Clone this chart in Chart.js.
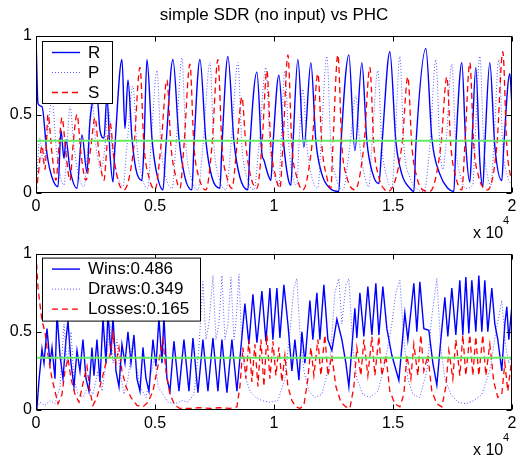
<!DOCTYPE html>
<html>
<head>
<meta charset="utf-8">
<script src="https://cdn.jsdelivr.net/npm/chart.js@4.4.1/dist/chart.umd.min.js"></script>
<style>
  html, body { margin: 0; padding: 0; background: #fff; }
  #wrap { position: relative; width: 524px; height: 458px; }
  canvas { position: absolute; left: 0; }
  #topChart { top: 0; }
  #bottomChart { top: 240px; }
</style>
</head>
<body>
<div id="wrap">
  <canvas id="topChart" width="524" height="240"></canvas>
  <canvas id="bottomChart" width="524" height="218"></canvas>
</div>
<script>
// time steps (x axis shown in units of 10^4)
const xTickValues = [0, 5000, 10000, 15000, 20000];
const yTickValues = [0, 0.5, 1];
const uniformLevel = 0.3333;

const topTitle = 'simple SDR (no input) vs PHC';
const topLabels = ['R', 'P', 'S'];
const bottomLabels = ['Wins:0.486', 'Draws:0.349', 'Losses:0.165'];

// --- top: strategy probabilities R / P / S
const rT = [0,84,252,462,672,924,1050,1176,1260,1428,1722,1932,2142,2268,2562,2688,2856,2982,3108,3234,3318,3612,3738,3864,4032,4200,4452,4536,4662,4872,5040,5334,5460,5754,6006,6258,6552,6636,6888,7140,7392,7728,7812,8064,8316,8568,8904,8988,9282,9492,9576,9744,9870,9954,10206,10416,10584,10710,10794,11004,11256,11550,11760,12012,12348,12726,12810,13146,13398,13692,13902,14154,14406,14532,14868,15120,15372,15708,15876,15960,16380,16632,16968,17304,17556,17640,17892,18060,18228,18312,18480,18648,18774,18858,19068,19278,19572,19656,19908,19992];
const rV = [1.00,0.57,0.55,0.25,0.10,0.04,0.40,0.22,0.34,0.15,0.03,0.37,0.13,0.46,0.62,0.40,0.35,0.62,0.25,0.07,0.30,0.85,0.41,0.72,0.35,0.15,0.08,0.30,0.85,0.35,0.15,0.02,0.30,0.85,0.35,0.10,0.02,0.30,0.85,0.33,0.10,0.03,0.30,0.87,0.33,0.10,0.02,0.30,0.77,0.25,0.21,0.12,0.08,0.30,0.75,0.30,0.10,0.05,0.30,0.85,0.29,0.83,0.33,0.12,0.03,0.01,0.30,0.88,0.27,0.83,0.33,0.12,0.06,0.30,0.90,0.33,0.12,0.03,0.01,0.30,0.92,0.35,0.12,0.03,0.01,0.30,0.83,0.30,0.07,0.30,0.80,0.20,0.04,0.30,0.83,0.30,0.08,0.30,0.76,0.57];

const pT = [0,168,294,462,672,840,1008,1176,1302,1428,1596,1806,2016,2184,2352,2520,2730,2898,3024,3192,3402,3654,3822,4074,4242,4452,4704,4830,5082,5250,5460,5712,5880,6132,6300,6510,6804,7014,7308,7476,7686,7980,8190,8484,8652,8862,9156,9366,9660,9828,10038,10206,10290,10458,10626,10794,10962,11046,11214,11382,11592,11844,11970,12222,12390,12600,12894,13188,13440,13608,13818,13986,14112,14364,14532,14742,14952,15078,15288,15456,15708,16044,16296,16548,16800,16968,17094,17220,17472,17640,17850,18060,18354,18438,18648,18816,18984,19110,19236,19446,19614,19824,19992];
const pV = [0.00,0.35,0.20,0.35,0.60,0.30,0.12,0.05,0.30,0.55,0.30,0.10,0.04,0.30,0.60,0.30,0.15,0.30,0.55,0.30,0.12,0.04,0.30,0.68,0.30,0.10,0.03,0.30,0.78,0.30,0.10,0.03,0.30,0.86,0.30,0.10,0.02,0.30,0.83,0.30,0.10,0.02,0.30,0.83,0.30,0.10,0.02,0.30,0.80,0.30,0.10,0.04,0.30,0.78,0.30,0.10,0.05,0.30,0.66,0.30,0.10,0.03,0.30,0.87,0.30,0.10,0.02,0.30,0.62,0.30,0.10,0.04,0.30,0.78,0.30,0.10,0.03,0.30,0.87,0.30,0.10,0.02,0.01,0.30,0.85,0.30,0.15,0.30,0.82,0.30,0.10,0.03,0.05,0.30,0.87,0.30,0.10,0.05,0.30,0.85,0.30,0.10,0.05];

const sT = [0,84,252,378,504,672,840,966,1092,1260,1428,1554,1722,1890,2100,2310,2478,2646,2856,2982,3108,3276,3486,3696,4116,4368,4536,4746,4998,5250,5502,5670,5880,6048,6216,6468,6636,6846,7140,7392,7644,7812,8022,8232,8442,8652,8820,9030,9282,9492,9702,9870,10080,10248,10374,10584,10752,10962,11214,11592,11844,12012,12222,12390,12474,12684,12852,13062,13398,13776,14028,14196,14406,14658,14784,15372,15624,15792,16002,16254,16548,17010,17262,17430,17640,17892,18018,18228,18396,18606,18816,18984,19362,19614,19782,19950,19992];
const sV = [0.00,0.10,0.30,0.15,0.50,0.25,0.08,0.30,0.48,0.25,0.08,0.30,0.50,0.25,0.08,0.30,0.48,0.25,0.08,0.30,0.45,0.22,0.06,0.02,0.30,0.80,0.30,0.10,0.02,0.30,0.72,0.30,0.10,0.03,0.30,0.82,0.30,0.10,0.02,0.30,0.85,0.30,0.10,0.03,0.30,0.61,0.30,0.10,0.03,0.30,0.78,0.30,0.10,0.03,0.30,0.88,0.30,0.10,0.02,0.30,0.76,0.30,0.10,0.03,0.30,0.88,0.30,0.10,0.02,0.30,0.80,0.30,0.10,0.02,0.01,0.30,0.74,0.30,0.10,0.02,0.01,0.30,0.74,0.30,0.10,0.02,0.30,0.83,0.30,0.10,0.03,0.02,0.30,0.90,0.30,0.10,0.08];

// --- bottom: running outcome rates
const wT = [0,42,126,252,336,462,588,672,798,882,1008,1134,1260,1344,1470,1596,1722,1848,1974,2100,2226,2352,2436,2562,2688,2814,2940,3024,3150,3234,3360,3486,3612,3738,3864,3990,4116,4242,4368,4494,4620,4746,4914,5040,5166,5292,5376,5502,5628,5796,6006,6216,6426,6594,6804,7014,7224,7434,7644,7812,8022,8232,8442,8778,8946,9114,9282,9492,9660,9828,9954,10122,10248,10416,10584,10752,10878,11046,11172,11298,11508,11634,11802,11928,12096,12264,12432,12642,12852,13020,13146,13398,13482,13608,13776,13944,14112,14280,14406,14574,14742,14952,15246,15498,15624,15876,16002,16128,16296,16506,16674,16842,17010,17178,17304,17472,17640,17808,17934,18060,18186,18312,18480,18606,18732,18858,18984,19152,19278,19404,19572,19698,19782,19866,19992];
const wV = [0.00,0.02,0.19,0.39,0.30,0.52,0.30,0.40,0.20,0.62,0.35,0.20,0.45,0.57,0.30,0.15,0.38,0.25,0.45,0.20,0.12,0.40,0.22,0.45,0.18,0.59,0.30,0.62,0.35,0.60,0.25,0.15,0.42,0.30,0.50,0.30,0.48,0.20,0.12,0.40,0.20,0.12,0.45,0.28,0.59,0.30,0.60,0.20,0.12,0.44,0.12,0.45,0.12,0.46,0.11,0.45,0.12,0.46,0.12,0.45,0.11,0.45,0.12,0.68,0.42,0.74,0.43,0.76,0.44,0.78,0.45,0.78,0.46,0.80,0.55,0.25,0.45,0.19,0.50,0.30,0.70,0.45,0.75,0.45,0.80,0.45,0.38,0.58,0.45,0.30,0.15,0.65,0.46,0.75,0.47,0.79,0.48,0.81,0.48,0.79,0.52,0.35,0.19,0.62,0.45,0.81,0.50,0.82,0.52,0.51,0.30,0.16,0.45,0.72,0.47,0.78,0.48,0.83,0.48,0.85,0.49,0.83,0.50,0.86,0.50,0.83,0.50,0.78,0.55,0.45,0.25,0.55,0.66,0.45,0.66];

const dT = [0,168,378,588,798,1008,1176,1302,1470,1596,1764,1974,2184,2394,2604,2772,2982,3108,3234,3402,3528,3696,3864,4074,4200,4368,4620,4788,4998,5124,5334,5544,5838,6132,6384,6636,6846,7014,7140,7266,7434,7560,7686,7812,7938,8064,8190,8316,8400,8526,8652,8820,8988,9240,9492,9828,10164,10458,10668,10836,10962,11088,11256,11466,11718,12012,12348,12558,12726,12852,13020,13146,13314,13482,13734,14028,14364,14658,14952,15120,15288,15456,15624,15834,16128,16422,16632,16842,17010,17178,17430,17724,18060,18396,18732,19068,19320,19572,19740,19866,19992];
const dV = [0.00,0.05,0.03,0.06,0.04,0.15,0.55,0.30,0.50,0.20,0.10,0.08,0.15,0.10,0.25,0.12,0.35,0.55,0.30,0.45,0.25,0.10,0.20,0.45,0.30,0.15,0.08,0.20,0.35,0.15,0.10,0.05,0.04,0.06,0.05,0.10,0.40,0.82,0.45,0.55,0.86,0.45,0.55,0.86,0.45,0.55,0.85,0.45,0.55,0.87,0.40,0.20,0.12,0.08,0.06,0.05,0.06,0.20,0.50,0.78,0.84,0.50,0.25,0.12,0.08,0.10,0.30,0.75,0.84,0.55,0.80,0.84,0.40,0.20,0.10,0.08,0.12,0.30,0.55,0.75,0.83,0.45,0.20,0.10,0.08,0.25,0.60,0.84,0.40,0.20,0.10,0.05,0.04,0.06,0.10,0.25,0.50,0.70,0.40,0.30,0.35];

const lT = [0,84,252,378,504,672,798,924,1092,1218,1344,1470,1638,1806,2016,2142,2268,2394,2562,2772,2940,3108,3234,3360,3486,3612,3780,3990,4242,4494,4704,4914,5082,5208,5334,5460,5628,5838,6048,6468,6888,7308,7728,8148,8442,8568,8694,8820,8946,9072,9198,9324,9450,9576,9702,9828,9954,10080,10206,10332,10458,10584,10752,10920,11088,11256,11424,11550,11676,11844,11970,12138,12264,12432,12600,12810,13020,13188,13356,13482,13650,13776,13944,14112,14238,14406,14532,14700,14868,15078,15288,15456,15582,15750,15876,16044,16170,16296,16464,16632,16842,17052,17220,17346,17514,17640,17808,17934,18060,18228,18354,18480,18606,18774,18900,19068,19236,19404,19572,19698,19824,19992];
const lV = [1.00,0.78,0.57,0.50,0.35,0.20,0.12,0.04,0.10,0.25,0.33,0.20,0.10,0.05,0.20,0.28,0.12,0.03,0.08,0.20,0.30,0.35,0.49,0.30,0.40,0.25,0.15,0.08,0.03,0.02,0.05,0.12,0.25,0.35,0.45,0.25,0.10,0.03,0.01,0.01,0.015,0.01,0.015,0.01,0.02,0.15,0.40,0.20,0.45,0.18,0.42,0.15,0.45,0.15,0.48,0.20,0.44,0.22,0.40,0.18,0.35,0.15,0.06,0.02,0.01,0.03,0.20,0.40,0.22,0.45,0.22,0.48,0.22,0.35,0.15,0.05,0.02,0.01,0.15,0.40,0.22,0.45,0.22,0.47,0.22,0.47,0.22,0.35,0.12,0.04,0.02,0.10,0.35,0.20,0.42,0.22,0.48,0.25,0.35,0.12,0.04,0.02,0.15,0.38,0.20,0.45,0.22,0.48,0.22,0.48,0.22,0.47,0.22,0.48,0.22,0.42,0.18,0.08,0.10,0.30,0.12,0.33];

const FONT = '"Liberation Sans", Arial, sans-serif';
const BLUE = '#0000ff';
const DOT_BLUE = 'rgba(50,50,255,0.8)';
const RED = '#ff0000';
const GREEN = 'rgb(100,235,100)';

function pts(t, v) {
    return t.map((x, i) => ({ x: x, y: v[i] }));
}

const styleSolid = { borderColor: BLUE, borderWidth: 1.4, borderDash: [] };
const styleDot = { borderColor: DOT_BLUE, borderWidth: 1, borderDash: [1, 2] };
const styleDash = { borderColor: RED, borderWidth: 1.3, borderDash: [6, 4] };

// smooth = monotone curves (top), otherwise straight segments (bottom)
function line(label, data, style, smooth) {
    const ds = Object.assign({ label: label, data: data, pointRadius: 0, fill: false }, style);
    if (smooth) {
        ds.cubicInterpolationMode = 'monotone';
        ds.tension = 0.4;
    } else {
        ds.tension = 0;
    }
    return ds;
}

function uniformLine() {
    return line('uniform', pts([0, 20000], [uniformLevel, uniformLevel]),
        { borderColor: GREEN, borderWidth: 2, borderDash: [] }, false);
}

// frame with inward ticks, title, exponent label and legend box
const framePlugin = {
    id: 'frame',
    afterDraw(chart, args, opts) {
        const ctx = chart.ctx;
        const a = chart.chartArea;
        const xs = chart.scales.x, ys = chart.scales.y;
        ctx.save();
        ctx.strokeStyle = '#000';
        ctx.lineWidth = 1;
        ctx.setLineDash([]);
        const L = Math.round(a.left) + 0.5, R = Math.round(a.right) - 0.5;
        const T = Math.round(a.top) + 0.5, B = Math.round(a.bottom) - 0.5;
        ctx.strokeRect(L, T, R - L, B - T);
        ctx.beginPath();
        xTickValues.forEach(v => {
            const px = Math.round(xs.getPixelForValue(v)) + 0.5;
            ctx.moveTo(px, B); ctx.lineTo(px, B - 5);
            ctx.moveTo(px, T); ctx.lineTo(px, T + 5);
        });
        yTickValues.forEach(v => {
            const py = Math.round(ys.getPixelForValue(v)) + 0.5;
            ctx.moveTo(L, py); ctx.lineTo(L + 5, py);
            ctx.moveTo(R, py); ctx.lineTo(R - 5, py);
        });
        ctx.stroke();

        ctx.fillStyle = '#000';
        ctx.textBaseline = 'middle';
        if (opts.title) {
            ctx.textAlign = 'center';
            ctx.font = '17px ' + FONT;
            ctx.fillText(opts.title, (a.left + a.right) / 2, 15);
        }

        // x 10^4
        ctx.textAlign = 'left';
        ctx.font = '16px ' + FONT;
        ctx.fillText('x 10', 473, a.bottom + 41);
        ctx.font = '11px ' + FONT;
        ctx.fillText('4', 503, a.bottom + 28);

        // legend
        const lg = opts.legend;
        const bx = a.left + lg.dx, by = a.top + lg.dy;
        ctx.fillStyle = '#fff';
        ctx.fillRect(bx, by, lg.w, lg.h);
        ctx.strokeStyle = '#000';
        ctx.strokeRect(bx + 0.5, by + 0.5, lg.w, lg.h);
        ctx.font = '17px ' + FONT;
        lg.labels.forEach((text, i) => {
            const ds = chart.data.datasets[lg.index[i]];
            const yy = by + 11 + i * 20;
            ctx.beginPath();
            ctx.strokeStyle = ds.borderColor;
            ctx.lineWidth = ds.borderWidth;
            ctx.setLineDash(ds.borderDash);
            ctx.moveTo(bx + 10, yy + 0.5);
            ctx.lineTo(bx + 38, yy + 0.5);
            ctx.stroke();
            ctx.setLineDash([]);
            ctx.fillStyle = '#000';
            ctx.fillText(text, bx + 46, yy + 1);
        });
        ctx.restore();
    }
};

function buildChart(canvasId, datasets, cfg) {
    return new Chart(document.getElementById(canvasId), {
        type: 'line',
        data: { datasets: datasets },
        options: {
            responsive: false,
            animation: false,
            events: [],
            layout: { padding: { left: 0, right: 12, top: cfg.padTop, bottom: 0 } },
            plugins: {
                legend: { display: false },
                tooltip: { enabled: false },
                title: { display: false },
                frame: { legend: cfg.legend, title: cfg.title }
            },
            scales: {
                x: {
                    type: 'linear', min: 0, max: 20000,
                    grid: { display: false, drawTicks: false },
                    border: { display: false },
                    afterBuildTicks: s => { s.ticks = xTickValues.map(v => ({ value: v })); },
                    ticks: {
                        color: '#000', font: { family: FONT, size: 16 }, padding: 4,
                        maxRotation: 0, autoSkip: false,
                        callback: v => String(v / 10000)
                    },
                    afterFit: s => { s.height = cfg.xHeight; }
                },
                y: {
                    min: 0, max: 1,
                    grid: { display: false, drawTicks: false },
                    border: { display: false },
                    afterBuildTicks: s => { s.ticks = yTickValues.map(v => ({ value: v })); },
                    ticks: {
                        color: '#000', font: { family: FONT, size: 16 }, padding: 4,
                        callback: v => String(v)
                    },
                    afterFit: s => { s.width = 36; }
                }
            },
            elements: { point: { radius: 0 } }
        },
        plugins: [framePlugin]
    });
}

// first dataset is drawn on top
buildChart('topChart', [
    uniformLine(),
    line('S', pts(sT, sV), styleDash, true),
    line('P', pts(pT, pV), styleDot, true),
    line('R', pts(rT, rV), styleSolid, true)
], {
    title: topTitle, padTop: 36, xHeight: 47,
    legend: { dx: 6, dy: 5, w: 70, h: 62, labels: topLabels, index: [3, 2, 1] }
});

buildChart('bottomChart', [
    uniformLine(),
    line('Losses', pts(lT, lV), styleDash, false),
    line('Draws', pts(dT, dV), styleDot, false),
    line('Wins', pts(wT, wV), styleSolid, false)
], {
    title: null, padTop: 13, xHeight: 48,
    legend: { dx: 6, dy: 4, w: 158, h: 63, labels: bottomLabels, index: [3, 2, 1] }
});
</script>
</body>
</html>
